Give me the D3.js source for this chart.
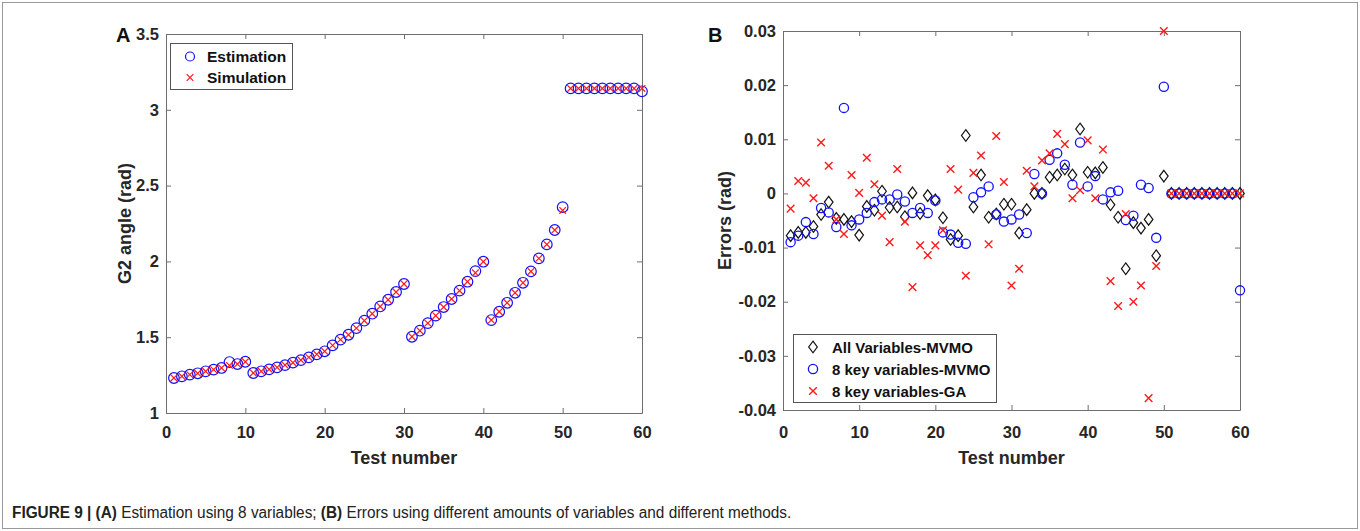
<!DOCTYPE html>
<html>
<head>
<meta charset="utf-8">
<script src="https://cdn.jsdelivr.net/npm/d3@7"></script>
<style>
  html, body { margin: 0; padding: 0; background: #fff; }
  svg { display: block; }
  .tick text { font-family: "Liberation Sans", Arial, sans-serif; font-weight: bold; fill: #262626; }
</style>
</head>
<body>
<svg id="chart" width="1360" height="531"></svg>
<script>
// ---------------- DATA ----------------
const testNumbers = [1,2,3,4,5,6,7,8,9,10,11,12,13,14,15,16,17,18,19,20,
  21,22,23,24,25,26,27,28,29,30,31,32,33,34,35,36,37,38,39,40,
  41,42,43,44,45,46,47,48,49,50,51,52,53,54,55,56,57,58,59,60];

// Panel A: G2 angle (rad)
const estimation = [1.231,1.242,1.253,1.262,1.275,1.286,1.297,1.336,1.323,1.338,
  1.264,1.275,1.288,1.301,1.316,1.332,1.349,1.367,1.387,1.407,
  1.446,1.484,1.516,1.560,1.609,1.655,1.703,1.747,1.798,1.851,
  1.503,1.543,1.593,1.642,1.699,1.752,1.807,1.866,1.936,1.998,
  1.613,1.668,1.727,1.793,1.859,1.934,2.020,2.112,2.207,2.358,
  3.141,3.141,3.141,3.141,3.141,3.141,3.141,3.141,3.141,3.122];
const simulation = [1.231,1.242,1.253,1.262,1.275,1.286,1.297,1.314,1.323,1.338,
  1.264,1.275,1.288,1.301,1.316,1.332,1.349,1.367,1.387,1.407,
  1.446,1.484,1.516,1.560,1.609,1.655,1.703,1.747,1.798,1.851,
  1.503,1.543,1.593,1.642,1.699,1.752,1.807,1.866,1.925,1.998,
  1.613,1.668,1.727,1.793,1.859,1.934,2.020,2.112,2.207,2.336,
  3.141,3.141,3.141,3.141,3.141,3.141,3.141,3.141,3.141,3.141];

// Panel B: Errors (rad)
const allVarsMVMO = [-0.0078,-0.0072,-0.0072,-0.0061,-0.0039,-0.0016,-0.0046,-0.0048,-0.0052,-0.0077,
  -0.0024,-0.0031,0.0004,-0.0026,-0.0025,-0.0043,0.0001,-0.0037,-0.0004,-0.0012,
  -0.0045,-0.0085,-0.0078,0.0107,-0.0025,0.0034,-0.0044,-0.0038,-0.0020,-0.0020,
  -0.0073,-0.0030,0.0000,0.0000,0.0030,0.0034,0.0045,0.0034,0.0119,0.0039,
  0.0038,0.0048,-0.0021,-0.0044,-0.0139,-0.0054,-0.0064,-0.0048,-0.0115,0.0032,
  0,0,0,0,0,0,0,0,0,0];
const keyVarsMVMO = [-0.0090,-0.0078,-0.0053,-0.0075,-0.0027,-0.0035,-0.0062,0.0158,-0.0059,-0.0048,
  -0.0036,-0.0016,-0.0011,-0.0011,-0.0002,-0.0015,-0.0036,-0.0027,-0.0036,-0.0013,
  -0.0072,-0.0076,-0.0091,-0.0093,-0.0007,0.0002,0.0013,-0.0039,-0.0052,-0.0048,
  -0.0039,-0.0073,0.0036,0.0000,0.0062,0.0074,0.0053,0.0016,0.0094,0.0013,
  0.0032,-0.0011,0.0002,0.0005,-0.0049,-0.0041,0.0016,0.0010,-0.0082,0.0197,
  0,0,0,0,0,0,0,0,0,-0.0179];
const keyVarsGA = [-0.0028,0.0023,0.0020,-0.0009,0.0094,0.0051,-0.0048,-0.0075,0.0034,0.0001,
  0.0066,0.0017,-0.0041,-0.0090,0.0045,-0.0052,-0.0173,-0.0096,-0.0114,-0.0096,
  -0.0068,0.0045,0.0007,-0.0152,0.0038,0.0070,-0.0094,0.0106,0.0021,-0.0170,
  -0.0139,0.0042,0.0013,0.0061,0.0074,0.0110,0.0091,-0.0009,0.0006,0.0098,
  -0.0009,0.0081,-0.0162,-0.0208,-0.0038,-0.0200,-0.0170,-0.0378,-0.0134,0.0300,
  0,0,0,0,0,0,0,0,0,0];

const xTicks = [0,10,20,30,40,50,60];
const xTickLabels = ["0","10","20","30","40","50","60"];
const aYTicks = [1,1.5,2,2.5,3,3.5];
const aYTickLabels = ["1","1.5","2","2.5","3","3.5"];
const bYTicks = [-0.04,-0.03,-0.02,-0.01,0,0.01,0.02,0.03];
const bYTickLabels = ["-0.04","-0.03","-0.02","-0.01","0","0.01","0.02","0.03"];
const legendA = ["Estimation","Simulation"];
const legendB = ["All Variables-MVMO","8 key variables-MVMO","8 key variables-GA"];

// ---------------- DRAW ----------------
const svg = d3.select("#chart");
const FONT = '"Liberation Sans", Arial, sans-serif';
const AXIS_COLOR = "#6e6e6e";
const BLUE = "#1010ff", RED = "#ff1a1a", BLACK = "#111";

svg.append("rect").attr("x",2.5).attr("y",2.5).attr("width",1355).attr("height",526)
  .attr("fill","none").attr("stroke","#9a9a9a").attr("stroke-width",1);

function panel(cfg) {
  const g = svg.append("g");
  const x = d3.scaleLinear().domain([0,60]).range([cfg.left, cfg.right]);
  const y = d3.scaleLinear().domain(cfg.yDomain).range([cfg.bottom, cfg.top]);
  const fmtX = v => xTickLabels[xTicks.indexOf(v)];
  const fmtY = v => cfg.yLabels[cfg.yTicks.indexOf(v)];

  const style = sel => {
    sel.selectAll("path.domain").attr("stroke", AXIS_COLOR).attr("stroke-width", 1);
    sel.selectAll(".tick line").attr("stroke", AXIS_COLOR).attr("stroke-width", 1);
    sel.selectAll(".tick text").style("font-size", "16.5px");
  };
  g.append("g").attr("transform",`translate(0,${cfg.bottom})`)
    .call(d3.axisBottom(x).tickValues(xTicks).tickFormat(fmtX).tickSizeInner(-5).tickSizeOuter(0).tickPadding(cfg.xPad))
    .call(style);
  g.append("g").attr("transform",`translate(0,${cfg.top})`)
    .call(d3.axisTop(x).tickValues(xTicks).tickFormat("").tickSizeInner(-5).tickSizeOuter(0))
    .call(style);
  g.append("g").attr("transform",`translate(${cfg.left},0)`)
    .call(d3.axisLeft(y).tickValues(cfg.yTicks).tickFormat(fmtY).tickSizeInner(-5).tickSizeOuter(0).tickPadding(7))
    .call(style);
  g.append("g").attr("transform",`translate(${cfg.right},0)`)
    .call(d3.axisRight(y).tickValues(cfg.yTicks).tickFormat("").tickSizeInner(-5).tickSizeOuter(0))
    .call(style);
  g.selectAll(".tick text").attr("fill","#262626").style("font-family",FONT).style("font-weight","bold");

  // axis titles
  g.append("text").attr("x",(cfg.left+cfg.right)/2).attr("y",464)
    .attr("text-anchor","middle").style("font-family",FONT).style("font-weight","bold")
    .style("font-size","18px").attr("fill","#262626").text("Test number");
  g.append("text").attr("transform",`translate(${cfg.yTitleX},${(cfg.top+cfg.bottom)/2}) rotate(-90)`)
    .attr("text-anchor","middle").style("font-family",FONT).style("font-weight","bold")
    .style("font-size","18px").attr("fill","#262626").text(cfg.yTitle);
  // panel letter
  g.append("text").attr("x",cfg.letterX).attr("y",42).style("font-family",FONT)
    .style("font-weight","bold").style("font-size","20px").attr("fill","#111").text(cfg.letter);
  return {g, x, y};
}

function circles(g, x, y, vals, r, color, sw) {
  g.append("g").selectAll("circle").data(vals).join("circle")
    .attr("cx",(d,i)=>x(testNumbers[i])).attr("cy",d=>y(d)).attr("r",r)
    .attr("fill","none").attr("stroke",color).attr("stroke-width",sw);
}
function crosses(g, x, y, vals, h, color, sw) {
  g.append("g").selectAll("path").data(vals).join("path")
    .attr("d",(d,i)=>{const cx=x(testNumbers[i]), cy=y(d);
      return `M${cx-h},${cy-h}L${cx+h},${cy+h}M${cx-h},${cy+h}L${cx+h},${cy-h}`;})
    .attr("fill","none").attr("stroke",color).attr("stroke-width",sw);
}
function diamonds(g, x, y, vals, w, h, color, sw) {
  g.append("g").selectAll("path").data(vals).join("path")
    .attr("d",(d,i)=>{const cx=x(testNumbers[i]), cy=y(d);
      return `M${cx},${cy-h}L${cx+w},${cy}L${cx},${cy+h}L${cx-w},${cy}Z`;})
    .attr("fill","none").attr("stroke",color).attr("stroke-width",sw);
}

// Panel A
const A = panel({left:166,right:642,top:34,bottom:413,yDomain:[1,3.5],yTicks:aYTicks,yLabels:aYTickLabels,
  xPad:13,yTitle:"G2 angle (rad)",yTitleX:131,letter:"A",letterX:116});
circles(A.g, A.x, A.y, estimation, 5.3, BLUE, 1.2);
crosses(A.g, A.x, A.y, simulation, 3.3, RED, 1.2);

// Legend A
{
  const lg = A.g.append("g");
  lg.append("rect").attr("x",170.5).attr("y",43.5).attr("width",122).attr("height",46)
    .attr("fill","#fff").attr("stroke","#555").attr("stroke-width",1);
  const rows = [56.5, 77.5];
  lg.append("circle").attr("cx",190).attr("cy",rows[0]).attr("r",4.5).attr("fill","none").attr("stroke",BLUE).attr("stroke-width",1.2);
  lg.append("path").attr("d",`M${190-3.3},${rows[1]-3.3}L${190+3.3},${rows[1]+3.3}M${190-3.3},${rows[1]+3.3}L${190+3.3},${rows[1]-3.3}`)
    .attr("stroke",RED).attr("stroke-width",1.2);
  legendA.forEach((t,i)=>lg.append("text").attr("x",207).attr("y",rows[i]+5.5)
    .style("font-family",FONT).style("font-weight","bold").style("font-size","15.5px").attr("fill","#111").text(t));
}

// Panel B
const B = panel({left:783,right:1240,top:31,bottom:410,yDomain:[-0.04,0.03],yTicks:bYTicks,yLabels:bYTickLabels,
  xPad:16,yTitle:"Errors (rad)",yTitleX:731,letter:"B",letterX:708});
diamonds(B.g, B.x, B.y, allVarsMVMO, 4.3, 5.8, BLACK, 1.2);
circles(B.g, B.x, B.y, keyVarsMVMO, 4.6, BLUE, 1.3);
crosses(B.g, B.x, B.y, keyVarsGA, 3.8, RED, 1.4);

// Legend B
{
  const lg = B.g.append("g");
  lg.append("rect").attr("x",793.5).attr("y",334.5).attr("width",203).attr("height",68)
    .attr("fill","#fff").attr("stroke","#555").attr("stroke-width",1);
  const rows = [347, 369, 391], mx = 813;
  lg.append("path").attr("d",`M${mx},${rows[0]-5.8}L${mx+4.3},${rows[0]}L${mx},${rows[0]+5.8}L${mx-4.3},${rows[0]}Z`)
    .attr("fill","none").attr("stroke",BLACK).attr("stroke-width",1.2);
  lg.append("circle").attr("cx",mx).attr("cy",rows[1]).attr("r",4.6).attr("fill","none").attr("stroke",BLUE).attr("stroke-width",1.3);
  lg.append("path").attr("d",`M${mx-3.8},${rows[2]-3.8}L${mx+3.8},${rows[2]+3.8}M${mx-3.8},${rows[2]+3.8}L${mx+3.8},${rows[2]-3.8}`)
    .attr("stroke",RED).attr("stroke-width",1.4);
  legendB.forEach((t,i)=>lg.append("text").attr("x",832).attr("y",rows[i]+5.5)
    .style("font-family",FONT).style("font-weight","bold").style("font-size","15px").attr("fill","#111").text(t));
}

// Caption (horizontally condensed to match the narrow face of the original)
{
  const cap = svg.append("text").attr("transform","translate(12,518) scale(0.96,1)")
    .style("font-family",'"Liberation Sans Narrow", "Liberation Sans", Arial, sans-serif')
    .style("font-size","16px").attr("fill","#222");
  const parts = [["FIGURE 9 | ",true],["(A)",true],[" Estimation using 8 variables; ",false],["(B)",true],
    [" Errors using different amounts of variables and different methods.",false]];
  parts.forEach(([t,b])=>cap.append("tspan").style("font-weight",b?"bold":"normal").text(t));
}
</script>
</body>
</html>
